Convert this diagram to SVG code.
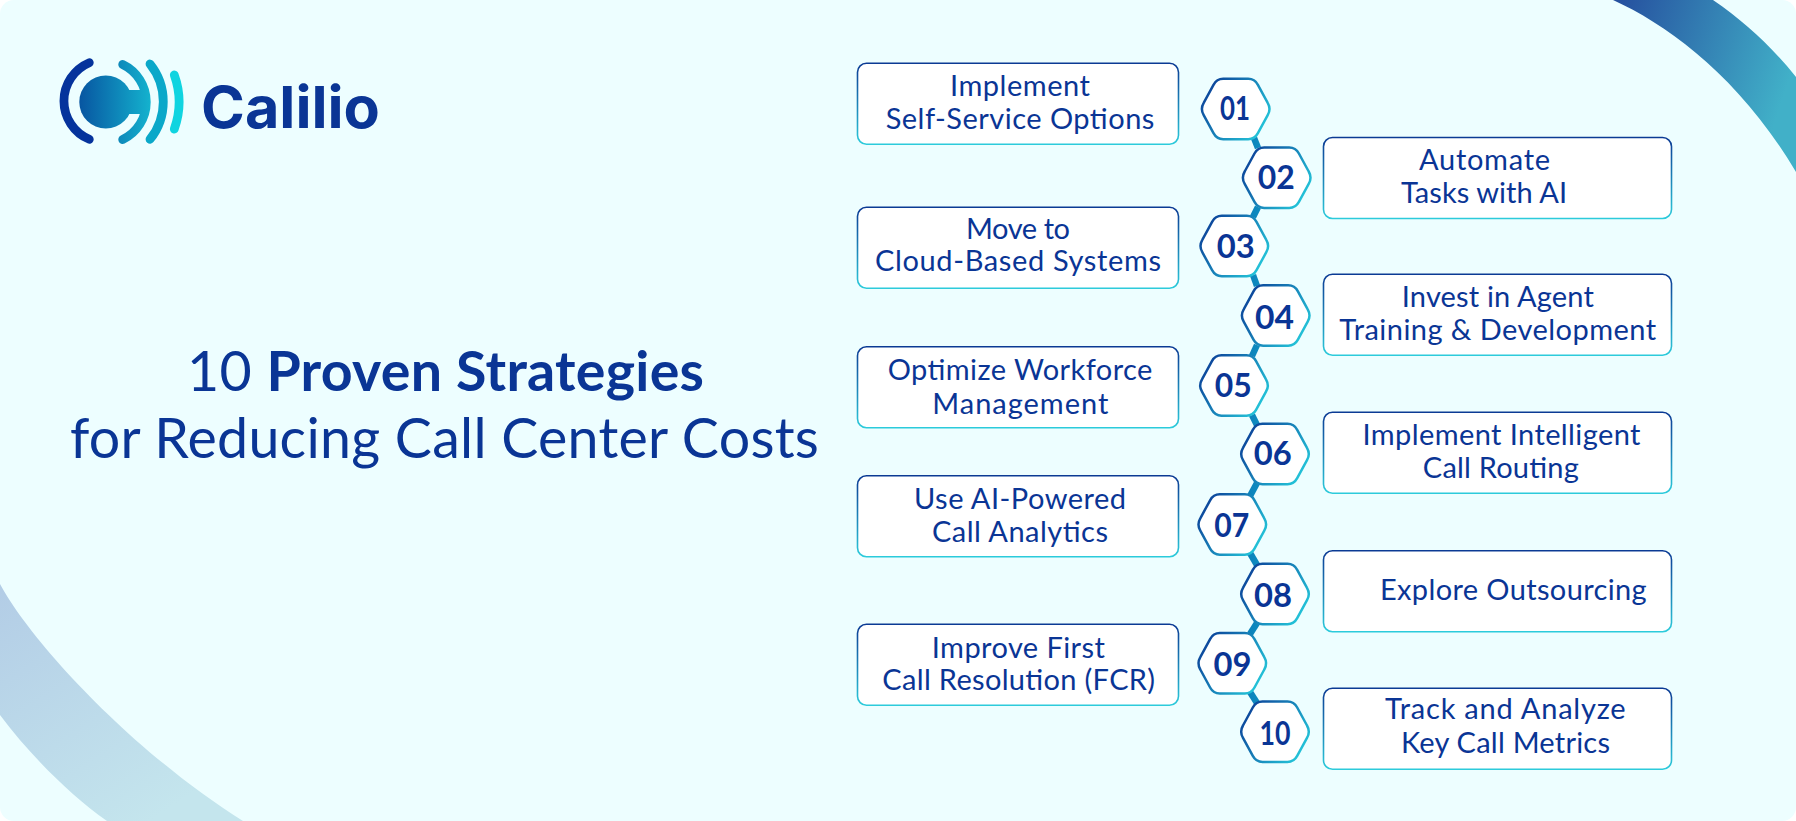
<svg xmlns="http://www.w3.org/2000/svg" width="1796" height="821" viewBox="0 0 1796 821">
<style>
text{font-family:"Lato","Noto Sans",sans-serif;fill:#0a3595}
.l{font-size:29px;text-anchor:middle;transform:translateY(.8px)}
.d{font-size:33px;font-weight:700;text-anchor:middle;transform:translateY(.6px)}
.t{font-size:55.5px;text-anchor:middle}
.b{fill:#fff;stroke:url(#boxStroke);stroke-width:1.6}
.h{fill:#fff;stroke:url(#hexStroke);stroke-width:2.5}
.c{stroke:url(#connStroke);stroke-width:6.5;fill:none}
</style>
<defs>
<linearGradient id="boxStroke" x1="0" y1="0" x2="0" y2="1"><stop offset="0" stop-color="#0b3a94"/><stop offset="1" stop-color="#2ccbdb"/></linearGradient>
<linearGradient id="hexStroke" x1="0" y1="0.2" x2="1" y2="0.8"><stop offset="0" stop-color="#0b3f98"/><stop offset="1" stop-color="#25cbdc"/></linearGradient>
<linearGradient id="connStroke" gradientUnits="userSpaceOnUse" x1="1225" y1="0" x2="1285" y2="0"><stop offset="0" stop-color="#0b6fb3"/><stop offset="1" stop-color="#0fa0c8"/></linearGradient>
<linearGradient id="arcTop" gradientUnits="userSpaceOnUse" x1="1620" y1="0" x2="1796" y2="60"><stop offset="0" stop-color="#26519f"/><stop offset="1" stop-color="#41b0c8"/></linearGradient>
<linearGradient id="arcBot" gradientUnits="userSpaceOnUse" x1="0" y1="590" x2="150" y2="821"><stop offset="0" stop-color="#b3cde6"/><stop offset="1" stop-color="#c4e5ed"/></linearGradient>
<linearGradient id="ball" gradientUnits="userSpaceOnUse" x1="76" y1="0" x2="152" y2="0"><stop offset="0" stop-color="#07519f"/><stop offset="1" stop-color="#14b4cf"/></linearGradient>
<clipPath id="card"><rect width="1796" height="821" rx="14"/></clipPath>
<path id="hex" d="M-32,-6.2L-22.2,-24.2Q-19,-30.2 -12.5,-30.2H12.5Q19,-30.2 22.2,-24.2L32,-6.2Q35.6,0 32,6.2L22.2,24.2Q19,30.2 12.5,30.2H-12.5Q-19,30.2 -22.2,24.2L-32,6.2Q-35.6,0 -32,-6.2Z"/>
</defs>
<rect width="1796" height="821" fill="#fff"/>
<g id="background" clip-path="url(#card)">
<rect width="1796" height="821" fill="#edfeff"/>
<path d="M1613,0C1670,26 1740,78 1796,172V77C1770,45 1745,22 1713,0Z" fill="url(#arcTop)"/>
<path d="M0,584C30,640 130,750 243,821H107C70,795 30,755 0,715Z" fill="url(#arcBot)"/>
</g>
<g id="logo">
<path d="M89.3,62.7A41.6,41.6 0 0 0 89.3,139.3" fill="none" stroke="#05339c" stroke-width="8.8" stroke-linecap="round"/>
<circle cx="105.8" cy="102" r="26.5" fill="url(#ball)"/>
<rect x="105" y="90" width="42" height="24" fill="url(#ball)"/>
<path d="M122.7,64.5A41.6,41.6 0 0 1 122.7,139.5" fill="none" stroke="url(#ball)" stroke-width="8.8" stroke-linecap="round"/>
<path d="M150,64A60,60 0 0 1 150,139.3" fill="none" stroke="#0aa8c9" stroke-width="8.8" stroke-linecap="round"/>
<path d="M174.3,75A80,80 0 0 1 174.3,129" fill="none" stroke="#10d4e0" stroke-width="8.8" stroke-linecap="round"/>
<text x="201" y="128.3" font-size="58" font-weight="700" style="font-family:Inter,'Liberation Sans',sans-serif" textLength="179" lengthAdjust="spacingAndGlyphs" fill="#05339c">Calilio</text>
</g>
<g id="title">
<text class="t" x="445.5" y="391" textLength="517">10 <tspan font-weight="700">Proven Strategies</tspan></text>
<text class="t" x="444.4" y="457.6" textLength="749">for Reducing Call Center Costs</text>
</g>
<g id="connectors">
<line class="c" x1="1254" y1="138" x2="1258" y2="148"/>
<line class="c" x1="1258" y1="207" x2="1253" y2="217"/>
<line class="c" x1="1253" y1="275" x2="1257" y2="286"/>
<line class="c" x1="1257" y1="345" x2="1252" y2="356"/>
<line class="c" x1="1252" y1="415" x2="1257" y2="425"/>
<line class="c" x1="1257" y1="483" x2="1250" y2="496"/>
<line class="c" x1="1250" y1="553" x2="1257" y2="565"/>
<line class="c" x1="1257" y1="623" x2="1250" y2="634"/>
<line class="c" x1="1250" y1="692" x2="1257" y2="703"/>
</g>
<g id="node-01"><use href="#hex" class="h" x="1235.7" y="109"/><text class="d" x="1235" y="119.3" textLength="30" lengthAdjust="spacingAndGlyphs">01</text>
<rect class="b" x="857.5" y="63.3" width="321" height="81" rx="9"/>
<text class="l" x="1020" y="95.4" textLength="140">Implement</text><text class="l" x="1020" y="128" textLength="268.7">Self-Service Options</text></g>
<g id="node-02"><use href="#hex" class="h" x="1276.7" y="177.7"/><text class="d" x="1276.3" y="188.3" textLength="37" lengthAdjust="spacingAndGlyphs">02</text>
<rect class="b" x="1323.5" y="137.5" width="348" height="81" rx="9"/>
<text class="l" x="1484.5" y="169.5" textLength="131">Automate</text><text class="l" x="1484" y="202.5" textLength="166">Tasks with AI</text></g>
<g id="node-03"><use href="#hex" class="h" x="1234.3" y="246"/><text class="d" x="1235.8" y="257.3" textLength="38" lengthAdjust="spacingAndGlyphs">03</text>
<rect class="b" x="857.5" y="207.3" width="321" height="81" rx="9"/>
<text class="l" x="1018" y="238" textLength="104">Move to</text><text class="l" x="1018" y="270.6" textLength="286">Cloud-Based Systems</text></g>
<g id="node-04"><use href="#hex" class="h" x="1275.7" y="315.5"/><text class="d" x="1274.5" y="328.3" textLength="39" lengthAdjust="spacingAndGlyphs">04</text>
<rect class="b" x="1323.5" y="274.3" width="348" height="81" rx="9"/>
<text class="l" x="1497.8" y="306" textLength="192">Invest in Agent</text><text class="l" x="1497.7" y="338.8" textLength="316.7">Training &amp; Development</text></g>
<g id="node-05"><use href="#hex" class="h" x="1234" y="385.5"/><text class="d" x="1233.3" y="396" textLength="37" lengthAdjust="spacingAndGlyphs">05</text>
<rect class="b" x="857.5" y="346.7" width="321" height="81" rx="9"/>
<text class="l" x="1020" y="379.7" textLength="264.7">Optimize Workforce</text><text class="l" x="1020.3" y="413" textLength="176">Management</text></g>
<g id="node-06"><use href="#hex" class="h" x="1275" y="454"/><text class="d" x="1272.8" y="464.3" textLength="38" lengthAdjust="spacingAndGlyphs">06</text>
<rect class="b" x="1323.5" y="412.3" width="348" height="81" rx="9"/>
<text class="l" x="1501.5" y="444.7" textLength="278">Implement Intelligent</text><text class="l" x="1500.8" y="477.7" textLength="156">Call Routing</text></g>
<g id="node-07"><use href="#hex" class="h" x="1232.3" y="524.5"/><text class="d" x="1231.7" y="536" textLength="35" lengthAdjust="spacingAndGlyphs">07</text>
<rect class="b" x="857.5" y="475.7" width="321" height="81" rx="9"/>
<text class="l" x="1020" y="508.7" textLength="212">Use AI-Powered</text><text class="l" x="1020" y="541.7" textLength="176">Call Analytics</text></g>
<g id="node-08"><use href="#hex" class="h" x="1275" y="594"/><text class="d" x="1273" y="606" textLength="38" lengthAdjust="spacingAndGlyphs">08</text>
<rect class="b" x="1323.5" y="550.7" width="348" height="81" rx="9"/>
<text class="l" x="1513.3" y="599" textLength="266.7">Explore Outsourcing</text></g>
<g id="node-09"><use href="#hex" class="h" x="1232.3" y="663.3"/><text class="d" x="1232.5" y="675" textLength="38" lengthAdjust="spacingAndGlyphs">09</text>
<rect class="b" x="857.5" y="624.3" width="321" height="81" rx="9"/>
<text class="l" x="1018.3" y="657" textLength="173">Improve First</text><text class="l" x="1018.7" y="689.7" textLength="272.7">Call Resolution (FCR)</text></g>
<g id="node-10"><use href="#hex" class="h" x="1275" y="731.7"/><text class="d" x="1275" y="744" textLength="31" lengthAdjust="spacingAndGlyphs">10</text>
<rect class="b" x="1323.5" y="688.3" width="348" height="81" rx="9"/>
<text class="l" x="1505.3" y="718.7" textLength="240.7">Track and Analyze</text><text class="l" x="1505.5" y="752" textLength="209">Key Call Metrics</text></g>
</svg>
